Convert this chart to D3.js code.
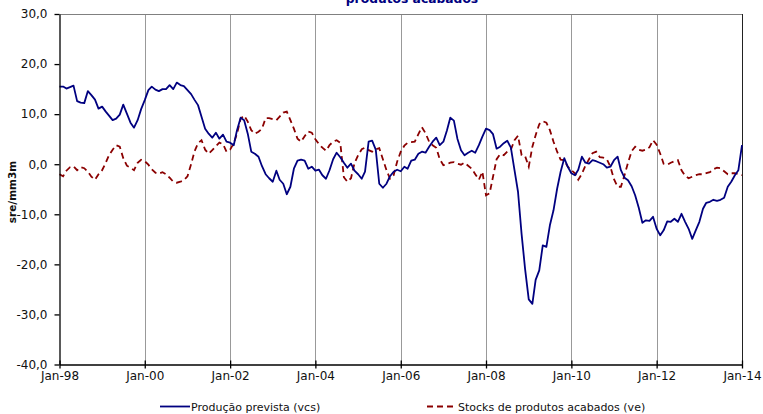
<!DOCTYPE html>
<html>
<head>
<meta charset="utf-8">
<script src="https://cdn.jsdelivr.net/npm/d3@7.9.0/dist/d3.min.js"></script>
<style>
  html, body { margin: 0; padding: 0; background: #fff; }
  svg { display: block; font-family: 'DejaVu Sans', sans-serif; }
</style>
</head>
<body>
<svg id="chart" width="763" height="414"></svg>
<script>
// monthly data, Jan-98 .. Jan-14 (one row per year)
const producaoPrevista = [
  15.5, 15.5, 15.1, 15.4, 15.7, 12.6, 12.3, 12.2, 14.6, 13.8, 12.9, 11.1,
  11.5, 10.5, 9.7, 8.8, 9.1, 9.9, 11.9, 10.1, 8.3, 7.3, 8.8, 11.0,
  12.8, 14.8, 15.5, 14.9, 14.6, 15.0, 15.0, 15.8, 15.0, 16.3, 15.8, 15.6,
  14.8, 14.0, 12.9, 11.8, 9.5, 7.1, 6.1, 5.3, 6.3, 5.1, 5.9, 4.5,
  4.3, 3.8, 6.8, 9.3, 8.8, 6.1, 2.5, 2.1, 1.5, -0.4, -2.0, -2.8,
  -3.5, -1.3, -3.1, -3.9, -6.0, -4.5, -0.9, 0.7, 0.9, 0.7, -0.9, -0.5,
  -1.3, -1.1, -2.2, -2.9, -1.2, 1.0, 2.3, 1.4, 0.3, -0.7, 0.1, -1.3,
  -2.0, -2.9, -1.5, 4.5, 4.7, 2.9, -3.9, -4.7, -3.9, -2.4, -1.5, -1.1,
  -1.4, -0.5, -0.9, 0.7, 0.9, 2.1, 2.5, 2.3, 3.5, 4.5, 5.3, 3.8,
  4.5, 6.8, 9.3, 8.7, 5.1, 2.8, 1.8, 2.3, 2.7, 2.3, 3.8, 5.5,
  7.1, 6.8, 6.0, 3.1, 3.5, 4.2, 4.7, 3.3, -1.2, -5.5, -14.0, -21.0,
  -27.0, -27.9, -23.1, -21.2, -16.2, -16.5, -12.2, -9.2, -4.9, -1.5, 1.2, -0.5,
  -1.8, -2.2, -1.1, 1.5, 0.3, 0.1, 0.8, 0.6, 0.3, 0.0, -0.7, -0.5,
  0.8, 1.5, -1.2, -2.7, -3.2, -4.4, -6.2, -8.7, -11.7, -11.2, -11.3, -10.5,
  -12.9, -14.2, -13.2, -11.4, -11.5, -10.9, -11.5, -9.9, -11.5, -12.9, -14.9, -13.2,
  -11.5, -8.9, -7.7, -7.5, -7.1, -7.3, -7.1, -6.7, -4.5, -3.5, -2.2, -1.2,
  3.8
];

const stocksAcabados = [
  -2.0, -2.4, -1.3, -0.6, -0.4, -1.2, -0.6, -0.8, -1.5, -2.5, -3.1, -2.0,
  -1.2, 0.3, 1.8, 2.9, 3.8, 3.5, 1.2, -0.3, -0.7, -1.2, 0.3, 0.9,
  0.6, -0.1, -1.0, -1.7, -1.9, -1.6, -2.0, -2.7, -3.5, -3.7, -3.5, -3.2,
  -2.4, 0.0, 2.5, 4.2, 4.8, 2.9, 2.1, 2.8, 3.6, 4.3, 4.0, 2.5,
  2.9, 4.2, 6.1, 9.1, 9.7, 8.5, 6.8, 6.1, 6.5, 7.1, 9.2, 9.2,
  9.0, 8.8, 9.5, 10.3, 10.5, 8.8, 7.1, 5.1, 4.5, 5.6, 6.5, 6.3,
  5.0, 4.0, 3.3, 2.7, 3.8, 4.5, 4.8, 4.3, -2.6, -3.5, -2.8, 0.2,
  1.8, 3.0, 3.3, 2.8, 2.5, 3.0, 3.2, 1.0, -1.2, -2.9, -2.2, 0.5,
  2.5, 3.7, 4.3, 4.4, 4.5, 6.0, 7.4, 6.2, 4.5, 3.8, 3.3, 1.0,
  -0.2, 0.0, 0.3, 0.4, 0.1, -0.1, 0.3, -0.3, -0.9, -2.0, -3.1, -1.5,
  -6.2, -5.8, -2.5, 1.0, 2.0, 1.8, 2.5, 2.9, 4.8, 5.7, 1.8, 1.6,
  -0.5, 3.5, 5.8, 8.0, 8.6, 8.3, 6.8, 4.5, 2.5, 0.9, 0.8, -0.5,
  -1.2, -1.8, -3.1, -1.9, -0.3, 1.0, 2.2, 2.5, 1.4, 1.3, 1.0, -0.5,
  -3.0, -4.5, -4.5, -2.2, 0.3, 2.6, 3.5, 2.9, 2.7, 2.9, 3.4, 4.8,
  3.9, 2.1, 0.1, -0.1, 0.3, 0.6, 0.8, -1.2, -2.3, -2.8, -2.5, -2.2,
  -2.0, -2.0, -1.8, -1.6, -1.0, -0.7, -0.8, -1.4, -2.0, -1.8, -1.8, -2.0,
  -2.2
];

const seriesNames = ['Produção prevista (vcs)', 'Stocks de produtos acabados (ve)'];
const yTickValues = [-40, -30, -20, -10, 0, 10, 20, 30];
const xTickYears = [1998, 2000, 2002, 2004, 2006, 2008, 2010, 2012, 2014];

const months = d3.timeMonth.range(new Date(1998, 0, 1), new Date(2014, 0, 2));

const svg = d3.select('#chart');
const plotLeft = 59.5, plotRight = 742, plotTop = 14, plotBottom = 364.5;

const x = d3.scaleTime()
    .domain([new Date(1998, 0, 1), new Date(2014, 0, 1)])
    .range([plotLeft, plotRight]);

const y = d3.scaleLinear()
    .domain([-40, 30])
    .range([plotBottom, plotTop]);

// title (only the second line is visible)
svg.append('text')
    .attr('x', 412)
    .attr('y', 3)
    .attr('text-anchor', 'middle')
    .attr('font-size', 12.3)
    .attr('font-weight', 'bold')
    .attr('fill', '#000080')
    .text('produtos acabados');

// vertical gridlines
svg.append('g')
    .selectAll('line')
    .data(xTickYears.slice(1, -1))
    .join('line')
    .attr('x1', d => Math.round(x(new Date(d, 0, 1))) + 0.5)
    .attr('x2', d => Math.round(x(new Date(d, 0, 1))) + 0.5)
    .attr('y1', plotTop)
    .attr('y2', plotBottom)
    .attr('stroke', '#999')
    .attr('stroke-width', 1);

// frame top and right
svg.append('line')
    .attr('x1', plotLeft).attr('x2', plotRight)
    .attr('y1', plotTop + 0.5).attr('y2', plotTop + 0.5)
    .attr('stroke', '#808080');
svg.append('line')
    .attr('x1', plotRight + 0.5).attr('x2', plotRight + 0.5)
    .attr('y1', plotTop).attr('y2', plotBottom)
    .attr('stroke', '#222');

// lines
let line = d3.line()
    .x((d, i) => x(months[i]))
    .y(d => y(d));

svg.append('path')
    .datum(stocksAcabados)
    .attr('d', line)
    .attr('fill', 'none')
    .attr('stroke', '#8b0000')
    .attr('stroke-width', 1.8)
    .attr('stroke-dasharray', '6,4');

svg.append('path')
    .datum(producaoPrevista)
    .attr('d', line)
    .attr('fill', 'none')
    .attr('stroke', '#000080')
    .attr('stroke-width', 1.8)
    .attr('stroke-linejoin', 'round');

// axes
let fmtY = d => d3.format('.1f')(d).replace('.', ',').replace('−', '-');

let yAxis = svg.append('g')
    .attr('transform', `translate(${plotLeft},0)`)
    .call(d3.axisLeft(y).tickValues(yTickValues).tickSize(5).tickSizeOuter(0).tickPadding(7).tickFormat(fmtY));

let xAxis = svg.append('g')
    .attr('transform', `translate(0,${plotBottom})`)
    .call(d3.axisBottom(x)
        .tickValues(xTickYears.map(yr => new Date(yr, 0, 1)))
        .tickSize(4).tickSizeOuter(0).tickPadding(3)
        .tickFormat(d3.timeFormat('Jan-%y')));

xAxis.selectAll('.tick line').attr('y1', -4);

[yAxis, xAxis].forEach(g => {
    g.selectAll('path, line').attr('stroke', '#000').attr('stroke-width', 1.3);
    g.selectAll('text').attr('font-size', 12).attr('fill', '#111')
        .attr('font-family', "'DejaVu Sans', sans-serif");
});

// y axis title
svg.append('text')
    .attr('transform', 'translate(16,192) rotate(-90)')
    .attr('text-anchor', 'middle')
    .attr('font-size', 10.5)
    .attr('font-weight', 'bold')
    .attr('fill', '#111')
    .text('sre/mm3m');

// legend
let legendItems = [
    { name: seriesNames[0], color: '#000080', dash: null, x: 160 },
    { name: seriesNames[1], color: '#8b0000', dash: '6,4', x: 427 }
];

let legend = svg.append('g').attr('transform', 'translate(0,406.5)');
legendItems.forEach(item => {
    legend.append('line')
        .attr('x1', item.x).attr('x2', item.x + 30)
        .attr('y1', 0).attr('y2', 0)
        .attr('stroke', item.color)
        .attr('stroke-width', 1.8)
        .attr('stroke-dasharray', item.dash);
    legend.append('text')
        .attr('x', item.x + 31)
        .attr('y', 4)
        .attr('font-size', 11)
        .attr('fill', '#111')
        .text(item.name);
});
</script>
</body>
</html>
